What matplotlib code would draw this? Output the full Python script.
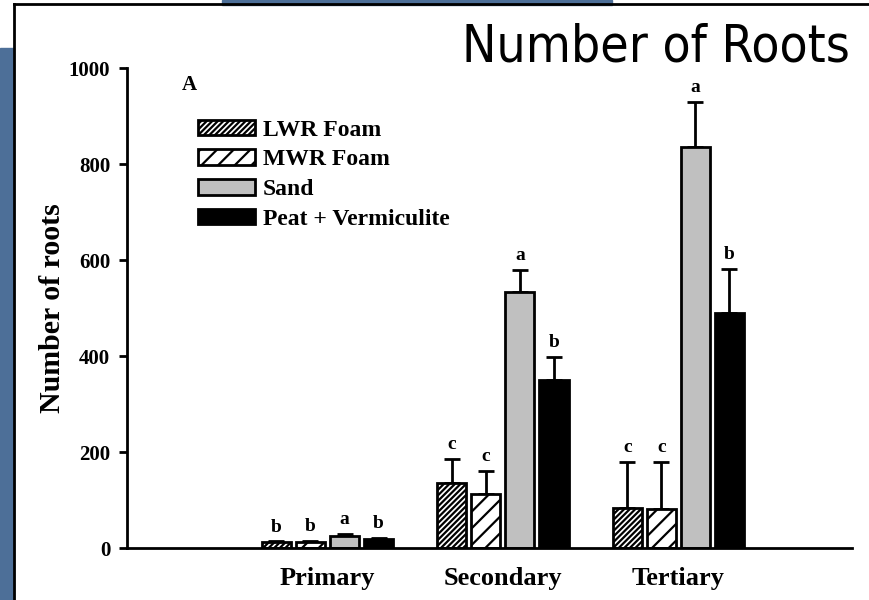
import numpy as np
import matplotlib.pyplot as plt
from matplotlib.patches import Rectangle
from matplotlib.lines import Line2D

plt.rcParams['hatch.linewidth'] = 1.6

groups = ['Primary', 'Secondary', 'Tertiary']
series = ['LWR Foam', 'MWR Foam', 'Sand', 'Peat + Vermiculite']

lwr = [12, 135, 83]
mwr = [13, 112, 81]
sand = [25, 533, 835]
peat = [18, 350, 490]

lwr_err = [2, 50, 96]
mwr_err = [2, 48, 98]
sand_err = [5, 46, 94]
peat_err = [3, 48, 91]

letters = [['b', 'c', 'c'], ['b', 'c', 'c'], ['a', 'a', 'a'], ['b', 'b', 'b']]

values = [lwr, mwr, sand, peat]
errors = [lwr_err, mwr_err, sand_err, peat_err]
faces = ['white', 'white', '#c0c0c0', 'black']
hatches = ['//////', '//', None, None]

fig = plt.figure(figsize=(8.69, 6), dpi=100)
fig.patch.set_facecolor('white')

# slide background bits
blue = '#4d6f98'
fig.patches.append(Rectangle((222/869, 1-5/600), (612-222)/869, 5/600,
                             transform=fig.transFigure, color=blue, zorder=0))
fig.patches.append(Rectangle((0, 0), 14/869, 1-48/600,
                             transform=fig.transFigure, color=blue, zorder=0))
fig.lines.append(Line2D([14/869, 14/869], [0, 1-4/600], transform=fig.transFigure,
                        color='black', lw=2))
fig.lines.append(Line2D([14/869, 1], [1-4/600, 1-4/600], transform=fig.transFigure,
                        color='black', lw=2))

ax = fig.add_axes([127/869, 1-548/600, (852-127)/869, (548-68)/600])

x = np.arange(1, 4)
pitch = 0.194
width = 0.166
offsets = [-1.5, -0.5, 0.5, 1.5]

for i in range(4):
    xs = x + offsets[i]*pitch
    ax.bar(xs, values[i], width, color=faces[i], edgecolor='black', linewidth=2,
           hatch=hatches[i], label=series[i], zorder=2)
    ax.errorbar(xs, values[i], yerr=[np.zeros(3), errors[i]], fmt='none',
                ecolor='black', elinewidth=2, capsize=6, capthick=2, zorder=1)
    for j in range(3):
        ax.text(xs[j], values[i][j] + errors[i][j] + 12, letters[i][j],
                ha='center', va='bottom', fontsize=14, fontweight='bold',
                family='Liberation Serif')

ax.set_xlim(-0.143, 3.99)
ax.set_ylim(0, 1000)
ax.set_yticks([0, 200, 400, 600, 800, 1000])
ax.set_xticks(x)
ax.set_xticklabels(groups)
ax.tick_params(axis='x', length=0, pad=14)
ax.tick_params(axis='y', length=6, width=2, direction='out', pad=6)
for lab in ax.get_xticklabels():
    lab.set_family('Liberation Serif')
    lab.set_fontweight('bold')
    lab.set_fontsize(19)
for lab in ax.get_yticklabels():
    lab.set_family('Liberation Serif')
    lab.set_fontweight('bold')
    lab.set_fontsize(15)

ax.spines['top'].set_visible(False)
ax.spines['right'].set_visible(False)
ax.spines['left'].set_linewidth(2)
ax.spines['bottom'].set_linewidth(2)

ax.set_ylabel('Number of roots', family='Liberation Serif', fontweight='bold',
              fontsize=21.5, labelpad=2)

ax.text(0.076, 0.985, 'A', transform=ax.transAxes, family='Liberation Serif',
        fontweight='bold', fontsize=15, va='top')

leg = ax.legend(loc='upper left', bbox_to_anchor=(0.075, 0.927), frameon=False,
                prop={'family': 'Liberation Serif', 'weight': 'bold', 'size': 17},
                handlelength=2.4, handleheight=0.65, handletextpad=0.35,
                labelspacing=0.36, borderaxespad=0.3)

fig.text(850/869, 1-47/600, 'Number of Roots', ha='right', va='center',
         fontsize=37, family='DejaVu Sans', fontstretch='condensed')

fig.savefig('out.png', dpi=100)
